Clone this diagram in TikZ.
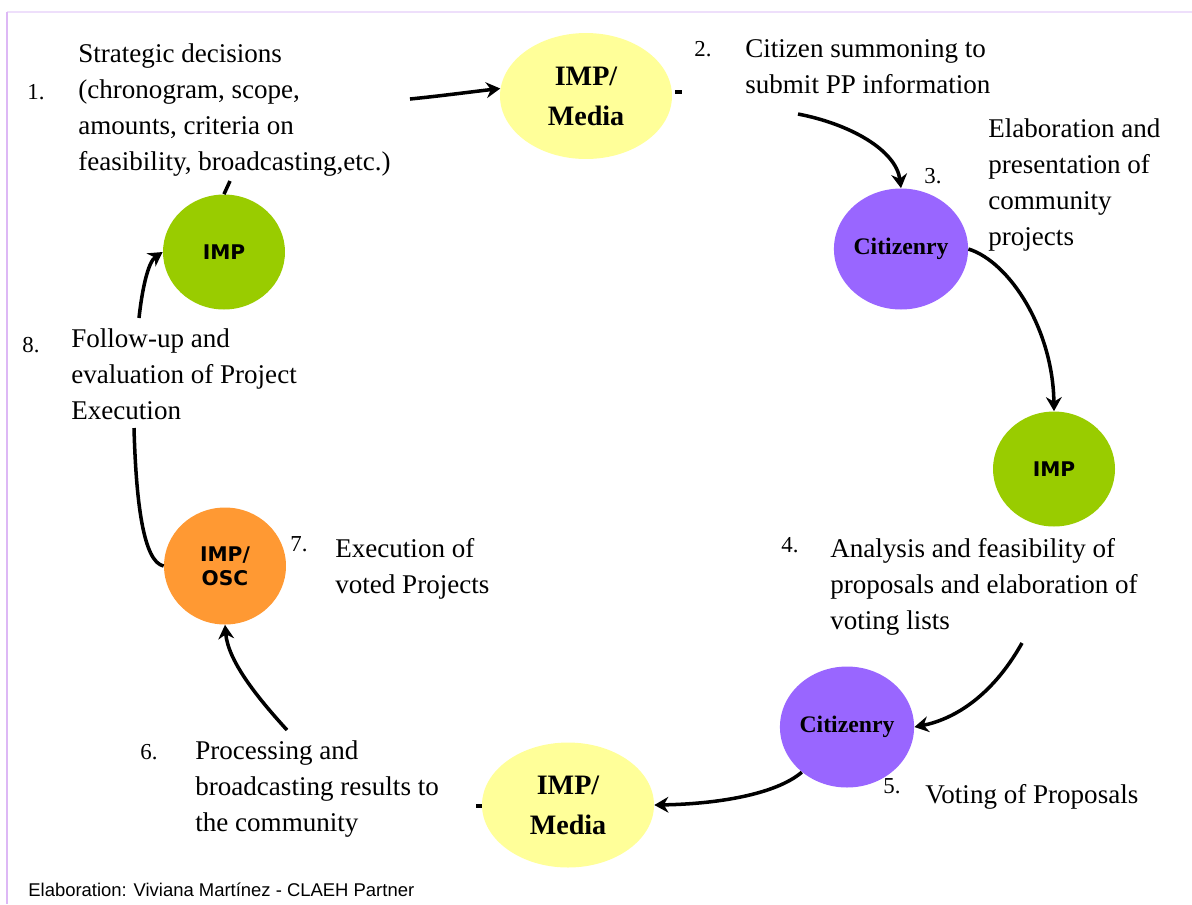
\documentclass[tikz,border=0pt]{standalone}
\usepackage{fontspec}
\setmainfont{Liberation Serif}
\newfontfamily\impfont{DejaVu Sans}
\newfontfamily\footfont{Liberation Sans}
\usetikzlibrary{shapes.geometric,arrows.meta}
\definecolor{ymed}{HTML}{FFFF99}
\definecolor{pcit}{HTML}{9966FF}
\definecolor{gimp}{HTML}{99CC00}
\definecolor{oosc}{HTML}{FF9933}
\definecolor{frameL}{HTML}{DDB8F5}
\definecolor{frameT}{HTML}{EEDFFB}
\begin{document}
\begin{tikzpicture}[x=0.02cm,y=-0.02cm,
  blob/.style={ellipse, inner sep=0pt, align=center, text=black},
  med/.style={blob, fill=ymed, minimum width=3.44cm, minimum height=2.52cm, font=\bfseries\fontsize{16}{22.7}\selectfont},
  cit/.style={blob, fill=pcit, minimum width=2.54cm, minimum height=2.42cm, font=\bfseries\fontsize{13.5}{16}\selectfont},
  imp/.style={blob, fill=gimp, minimum width=2.44cm, minimum height=2.3cm, font=\impfont\bfseries\fontsize{11.5}{13.6}\selectfont},
  osc/.style={blob, fill=oosc, minimum width=2.44cm, minimum height=2.34cm, font=\impfont\bfseries\fontsize{11.5}{13.6}\selectfont},
  lbl/.style={anchor=north west, inner sep=0pt, align=left, font=\fontsize{15.4}{20.6}\selectfont},
  num/.style={anchor=base west, inner sep=0pt, font=\fontsize{13}{15}\selectfont},
  flow/.style={line width=2pt, -{Stealth[length=8pt,width=9pt]}},
  link/.style={line width=2pt}
]
\useasboundingbox (0,0) rectangle (1192,904);
\fill[white] (0,0) rectangle (1192,904);
% frame
\draw[frameT, line width=1.2pt] (7,12) -- (1192,12);
\draw[frameL, line width=1.4pt] (7,12) -- (7,904);

% ellipses
\node[med] (m1) at (586,96) {IMP/\\Media};
\node[cit] (c1) at (901,249) {Citizenry};
\node[imp] (i2) at (1054,469) {IMP};
\node[cit] (c2) at (847,727) {Citizenry};
\node[med, minimum height=2.5cm] (m2) at (568,805) {IMP/\\Media};
\node[osc] (o) at (225,566) {IMP/\\OSC};
\node[imp] (i1) at (224,252) {IMP};

% numbers
\node[num] (n1) at (27,99) {1.};
\node[num] (n2) at (694,56) {2.};
\node[num] (n3) at (924,183) {3.};
\node[num] (n4) at (781,552) {4.};
\node[num] (n5) at (883,793) {5.};
\node[num] (n6) at (140,759) {6.};
\node[num] (n7) at (290,551) {7.};
\node[num] (n8) at (22,352) {8.};

% texts
\node[lbl] (t1) at (78,36.6) {\strut Strategic decisions\\(chronogram, scope,\\amounts, criteria on\\feasibility, broadcasting,etc.)};
\node[lbl] (t2) at (745,31.6) {\strut Citizen summoning to\\submit PP information};
\node[lbl] (t3) at (988,111.6) {\strut Elaboration and\\presentation of\\community\\projects};
\node[lbl] (t4) at (830,531.6) {\strut Analysis and feasibility of\\proposals and elaboration of\\voting lists};
\node[lbl] (t5) at (925,777.6) {\strut Voting of Proposals};
\node[lbl] (t6) at (195,733.6) {\strut Processing and\\broadcasting results to\\the community};
\node[lbl] (t7) at (335,531.6) {\strut Execution of\\voted Projects};
\node[lbl] (t8) at (71,321.6) {\strut Follow-up and\\evaluation of Project\\Execution};

\node[anchor=base west, inner sep=0pt, font=\footfont\fontsize{10.5}{12}\selectfont] (foot) at (28,896) {Elaboration: Viviana Mart\'inez - CLAEH Partner};

% free ends of connectors
\coordinate (a1) at (410,99);
\coordinate (a2) at (798,114);
\coordinate (a4) at (1022,643);
\coordinate (a6) at (287,730);
\coordinate (a7) at (134,428);
\coordinate (a8) at (139,318);
\coordinate (s1) at (230,181);
\coordinate (d1a) at (675,92);
\coordinate (d1b) at (682,92);
\coordinate (d2a) at (476,806);
\coordinate (d2b) at (482,806);

% connectors
\draw[flow] (a1) .. controls (440,96) and (470,92) .. (m1.175);
\draw[flow] (a2) .. controls (850,124) and (896,150) .. (c1.north);
\draw[flow] (c1.east) .. controls (1010,262) and (1053,330) .. (i2.north);
\draw[flow] (a4) .. controls (990,700) and (950,720) .. (c2.east);
\draw[flow] (c2.225) .. controls (775,795) and (715,804) .. (m2.east);
\draw[flow] (a6) .. controls (255,695) and (228,660) .. (o.south);
\draw[link] (o.west) .. controls (143,562) and (136,500) .. (a7);
\draw[flow] (a8) .. controls (142,290) and (148,262) .. (i1.west);
\draw[link] (i1.north) -- (s1);
\draw[link] (d1a) -- (d1b);
\draw[link] (d2a) -- (d2b);
\end{tikzpicture}
\end{document}
